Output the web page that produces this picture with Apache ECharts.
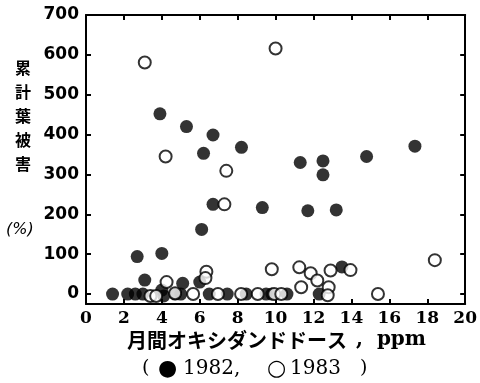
<!DOCTYPE html>
<html>
<head>
<meta charset="utf-8">
<script src="https://cdn.jsdelivr.net/npm/echarts@6/dist/echarts.min.js"></script>
<style>
  html, body { margin: 0; padding: 0; background: #fff; }
  #chart { width: 480px; height: 383px; }
</style>
</head>
<body>
<div id="chart"></div>
<script>
// 1982 (filled circles)
const x1982 = [1.4, 2.2, 2.6, 3.0, 2.7, 3.1, 3.9, 4.0, 4.0, 4.1, 4.7, 5.0, 5.1, 5.3, 6.0, 6.1, 6.2, 6.5,
  6.7, 6.7, 7.45, 8.2, 8.45, 9.3, 9.5, 9.8, 10.6, 11.3, 11.7, 12.3, 12.5, 12.5, 13.2, 13.5, 14.8, 17.35];
const y1982 = [0, 0, 0, 0, 94, 35, 452, 102, 10, -5, 0, 0, 27, 420, 30, 162, 353, 0,
  399, 225, 0, 368, 0, 217, 0, 0, 0, 330, 209, 0, 334, 299, 211, 68, 345, 371];

// 1983 (open circles)
const x1983 = [3.1, 10.0, 4.2, 7.4, 7.3, 6.35, 6.3, 9.8, 4.25, 4.7, 3.4, 3.7, 5.65, 6.96, 8.18, 9.06,
  9.93, 10.3, 11.25, 11.85, 12.2, 12.9, 13.95, 11.35, 12.8, 12.75, 15.4, 18.4];
const y1983 = [581, 616, 345, 309, 225, 56, 40, 62, 30, 2, -5, -5, 0, 0, 0, 0,
  0, 0, 67, 52, 34, 59, 60, 17, 17, -3, 0, 85];

const yTicks = [0, 100, 200, 300, 400, 500, 600, 700];

const pts1982 = x1982.map((x, i) => [x, y1982[i]]);
const pts1983 = x1983.map((x, i) => [x, y1983[i]]);

const chart = echarts.init(document.getElementById('chart'));

const axisLine = { show: true, onZero: false, lineStyle: { color: '#000', width: 2 } };
const tick = { show: true, inside: true, length: 5, lineStyle: { color: '#000', width: 2 } };

const serif = 'DejaVu Serif';
const jp = 'Noto Sans CJK JP';

chart.setOption({
  animation: false,
  grid: { left: 86, right: 11, top: 15, bottom: 79 },
  xAxis: [
    {
      type: 'value', min: 0, max: 20, interval: 2,
      axisLine: axisLine,
      axisTick: tick,
      splitLine: { show: false },
      axisLabel: {
        color: '#000', fontFamily: serif, fontWeight: 'bold', fontSize: 17, margin: 6
      }
    },
    {
      type: 'value', min: 0, max: 20, interval: 2, position: 'top',
      axisLine: axisLine,
      axisTick: tick,
      splitLine: { show: false },
      axisLabel: { show: false }
    }
  ],
  yAxis: [
    {
      type: 'value', min: -25, max: 700,
      axisLine: axisLine,
      axisTick: Object.assign({ customValues: yTicks }, tick),
      splitLine: { show: false },
      axisLabel: {
        customValues: yTicks,
        color: '#000', fontFamily: 'DejaVu Sans', fontWeight: 'bold', fontSize: 17, margin: 7
      }
    },
    {
      type: 'value', min: -25, max: 700, position: 'right',
      axisLine: axisLine,
      axisTick: Object.assign({ customValues: yTicks }, tick),
      splitLine: { show: false },
      axisLabel: { show: false, customValues: yTicks }
    }
  ],
  series: [
    {
      name: '1982', type: 'scatter', data: pts1982,
      symbol: 'circle', symbolSize: 13,
      itemStyle: { color: '#000' }
    },
    {
      name: '1983', type: 'scatter', data: pts1983,
      symbol: 'circle', symbolSize: 12,
      itemStyle: { color: '#fff', borderColor: '#000', borderWidth: 2 }
    }
  ],
  graphic: [
    {
      type: 'text', left: 15, top: 56,
      style: {
        text: '累\n計\n葉\n被\n害', fill: '#000', fontSize: 16, lineHeight: 24,
        fontFamily: jp, fontWeight: 'bold'
      }
    },
    {
      type: 'text', left: 6, top: 222,
      style: { text: '(%)', fill: '#000', fontSize: 16, fontStyle: 'italic', fontFamily: 'DejaVu Sans' }
    },
    {
      type: 'text', left: 127, top: 330,
      style: { text: '月間オキシダンドドース', fill: '#000', fontSize: 20, fontFamily: jp, fontWeight: 'bold' }
    },
    {
      type: 'text', left: 356, top: 330,
      style: { text: ',  ppm', fill: '#000', fontSize: 20, fontFamily: serif, fontWeight: 'bold' }
    },
    { type: 'text', left: 142, top: 359, style: { text: '(', fill: '#000', fontSize: 19, fontFamily: serif } },
    { type: 'text', left: 158, top: 358, style: { text: '●', fill: '#000', fontSize: 22, fontFamily: 'DejaVu Sans' } },
    { type: 'text', left: 183, top: 359, style: { text: '1982,', fill: '#000', fontSize: 20, fontFamily: serif } },
    { type: 'text', left: 267, top: 358, style: { text: '○', fill: '#000', fontSize: 22, fontFamily: 'DejaVu Sans' } },
    { type: 'text', left: 290, top: 359, style: { text: '1983', fill: '#000', fontSize: 20, fontFamily: serif } },
    { type: 'text', left: 360, top: 359, style: { text: ')', fill: '#000', fontSize: 19, fontFamily: serif } }
  ]
});
</script>
</body>
</html>
